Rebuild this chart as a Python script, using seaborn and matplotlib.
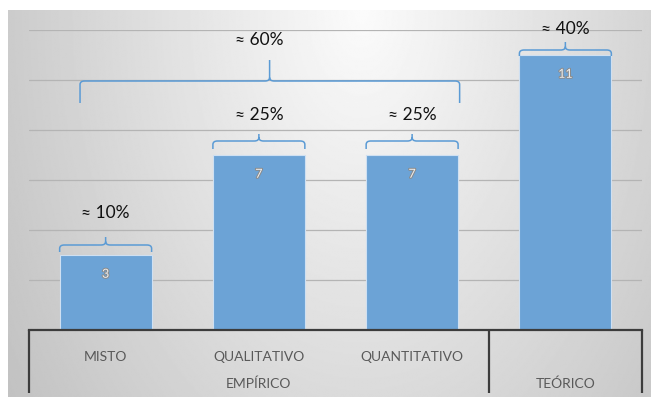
import numpy as np
import pandas as pd
import seaborn as sns
import matplotlib.pyplot as plt
import matplotlib.patheffects as pe
from matplotlib.path import Path
from matplotlib.patches import PathPatch
from matplotlib.transforms import blended_transform_factory

# ---- data ----
categories = ["MISTO", "QUALITATIVO", "QUANTITATIVO", "TEÓRICO"]
groups = ["EMPÍRICO", "EMPÍRICO", "EMPÍRICO", "TEÓRICO"]
counts = [3, 7, 7, 11]
shares = ["≈ 10%", "≈ 25%", "≈ 25%", "≈ 40%"]
empirical_share = "≈ 60%"

df = pd.DataFrame({"categoria": categories, "grupo": groups, "n": counts})

sns.set_theme(style="white")
plt.rcParams["font.family"] = ["Lato", "DejaVu Sans"]

W, H = 651, 397
fig = plt.figure(figsize=(W / 100, H / 100), dpi=100)

# radial grey background panel
bg = fig.add_axes([8 / W, 0, (W - 8) / W, (H - 10) / H], zorder=0)
yy, xx = np.mgrid[0:1:300j, 0:1:500j]
d = np.sqrt(((xx - 0.55) / 0.5) ** 2 + (yy * 0.75) ** 2)
shade = np.clip(0.985 - 0.17 * d, 0.76, 1.0)
bg.imshow(shade, cmap="gray", vmin=0, vmax=1, extent=[0, 1, 1, 0],
          aspect="auto", interpolation="bilinear")
bg.axis("off")

ax = fig.add_axes([29 / W, 67 / H, (642 - 29) / W, 300 / H], zorder=1)
ax.set_facecolor("none")

sns.barplot(data=df, x="categoria", y="n", ax=ax, color="#6CA3D6",
            saturation=1, width=0.6, edgecolor="#cfe0f2", linewidth=0.8,
            zorder=3)

ax.set_xlim(-0.5, len(categories) - 0.5)
ax.set_ylim(0, 12)
ax.set_yticks(np.arange(0, 13, 2))
ax.yaxis.grid(True, color="#b4b4b4", linewidth=0.9, zorder=0)
ax.tick_params(axis="y", left=False, labelleft=False)
ax.set_xlabel("")
ax.set_ylabel("")
for s in ["top", "left", "right"]:
    ax.spines[s].set_visible(False)
ax.spines["bottom"].set_color("#3c3c3c")
ax.spines["bottom"].set_linewidth(1.6)
ax.spines["bottom"].set_zorder(5)
# a category that forms its own group is only named on the group row
ax.set_xticks(range(len(categories)),
              ["" if c == g else c for c, g in zip(categories, groups)])
ax.tick_params(axis="x", length=0, pad=15, labelsize=10, labelcolor="#595959")

# value labels inside the bars
for i, v in enumerate(counts):
    ax.text(i, v - 0.75, str(v), ha="center", va="center", fontsize=9,
            color="#eeeeee", zorder=6,
            path_effects=[pe.withStroke(linewidth=1.4, foreground="#8a8a8a")])

# multi-level category table below the axis
trans = blended_transform_factory(ax.transData, ax.transAxes)
for xv in [-0.5, 2.5, 3.5]:
    ax.plot([xv, xv], [0, -0.21], transform=trans, color="#3c3c3c",
            linewidth=1.6, clip_on=False, zorder=5, solid_capstyle="butt")
group_names = list(dict.fromkeys(groups))
for g in group_names:
    idx = [i for i, gg in enumerate(groups) if gg == g]
    ax.text((min(idx) + max(idx)) / 2, -0.18, g, transform=trans,
            ha="center", va="center", fontsize=10, color="#595959")


def brace(x0, x1, xm, y_end, y_h, y_tip, rx=0.03, ry=0.14):
    verts = [
        (x0, y_end), (x0, y_h - ry), (x0, y_h), (x0 + rx, y_h),
        (xm - rx, y_h), (xm, y_h), (xm, y_h + ry), (xm, y_tip),
        (xm, y_h + ry), (xm, y_h), (xm + rx, y_h),
        (x1 - rx, y_h), (x1, y_h), (x1, y_h - ry), (x1, y_end),
    ]
    codes = [Path.MOVETO, Path.LINETO, Path.CURVE3, Path.CURVE3,
             Path.LINETO, Path.CURVE3, Path.CURVE3, Path.LINETO,
             Path.MOVETO, Path.CURVE3, Path.CURVE3,
             Path.LINETO, Path.CURVE3, Path.CURVE3, Path.LINETO]
    ax.add_patch(PathPatch(Path(verts, codes), fill=False, edgecolor="#5B9BD5",
                           linewidth=1.1, clip_on=False, zorder=6))


# braces over each bar: (end drop, horizontal, tip, label) offsets above the bar
brace_offsets = [(0.12, 0.40, 0.72, 1.68), (0.24, 0.56, 0.84, 1.60),
                 (0.24, 0.56, 0.84, 1.60), (-0.04, 0.20, 0.52, 1.04)]
for i, (v, lab) in enumerate(zip(counts, shares)):
    oe, oh, ot, ol = brace_offsets[i]
    brace(i - 0.3, i + 0.3, i, v + oe, v + oh, v + ot)
    ax.text(i, v + ol, lab, ha="center", va="center", fontsize=12.5,
            color="#111111", clip_on=False, zorder=6)

# brace spanning the empirical group
brace(-0.167, 2.31, 1.07, 9.08, 9.96, 10.8)
ax.text(1.0, 11.6, empirical_share, ha="center", va="center", fontsize=12.5,
        color="#111111", clip_on=False, zorder=6)

fig.savefig("out.png", dpi=100)
